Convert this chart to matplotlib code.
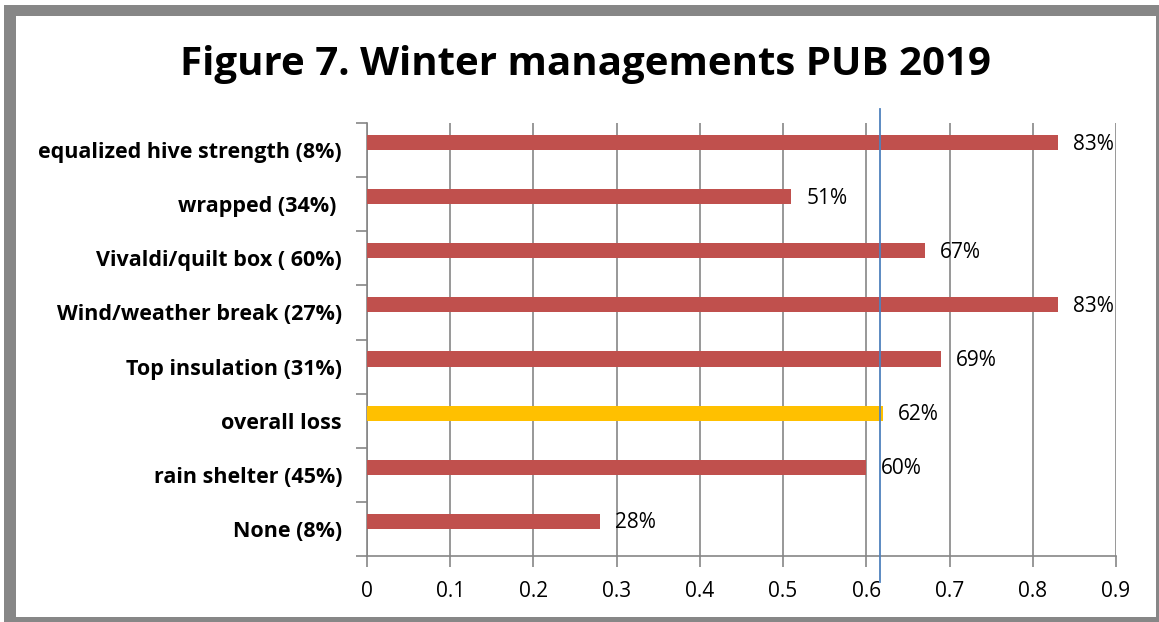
import numpy as np
import matplotlib.pyplot as plt
from matplotlib.patches import Rectangle

plt.rcParams['font.family'] = ['Open Sans', 'DejaVu Sans']

# data, top to bottom as shown
categories = ["equalized hive strength (8%)", "wrapped (34%) ", "Vivaldi/quilt box ( 60%)",
              "Wind/weather break (27%)", "Top insulation (31%)", "overall loss",
              "rain shelter (45%)", "None (8%)"]
values = [0.83, 0.51, 0.67, 0.83, 0.69, 0.62, 0.60, 0.28]
highlight = "overall loss"
loss_line = 0.616  # hand-drawn blue marker line, sits just left of the overall-loss bar end
xticks = [0, 0.1, 0.2, 0.3, 0.4, 0.5, 0.6, 0.7, 0.8, 0.9]

RED = "#C0504D"
YELLOW = "#FFC000"
BLUE = "#4F81BD"
GRID = "#868686"

W, H = 1159, 622
fig = plt.figure(figsize=(W / 100, H / 100), dpi=100)

def px_rect(x0, y0, x1, y1, **kw):
    # rectangle given in pixel coords (origin top-left)
    return Rectangle((x0 / W, 1 - y1 / H), (x1 - x0) / W, (y1 - y0) / H,
                     transform=fig.transFigure, **kw)

# gray frame (thicker on the left/top like the screenshot)
fig.patches.append(px_rect(4, 5, W, H, facecolor="#878787", edgecolor="none", zorder=-2))
fig.patches.append(px_rect(16, 16, 1156, 617, facecolor="white", edgecolor="none", zorder=-1))

ax = fig.add_axes([367 / W, 1 - 556 / H, (1116 - 367) / W, (556 - 123) / H])
ax.set_zorder(1)
ax.patch.set_alpha(0)

y = np.arange(len(categories))[::-1]
colors = [YELLOW if c == highlight else RED for c in categories]
ax.barh(y + 0.14, values, height=0.28, color=colors, zorder=3)

for yi, v in zip(y, values):
    ax.text(v + 0.018, yi + 0.11, f"{v:.0%}", va="center", ha="left", fontsize=15, zorder=4)

ax.set_xlim(0, 0.9)
ax.set_ylim(-0.5, len(categories) - 0.5)
ax.set_xticks(xticks)
ax.set_xticklabels([f"{t:g}" for t in xticks], fontsize=15)
ax.set_yticks(y)
ax.set_yticklabels(categories, fontsize=15.5, fontweight="bold")
ax.set_yticks(np.arange(len(categories) + 1) - 0.5, minor=True)
ax.tick_params(axis="y", which="major", length=0, pad=18)
ax.tick_params(axis="y", which="minor", length=8, color=GRID, width=1.2)
ax.tick_params(axis="x", length=8, color=GRID, width=1.2, pad=10)

ax.grid(axis="x", color=GRID, linewidth=1.2, zorder=0)
for s in ["top", "right"]:
    ax.spines[s].set_visible(False)
for s in ["left", "bottom"]:
    ax.spines[s].set_color(GRID)
    ax.spines[s].set_linewidth(1.2)

# blue reference line, running past the plot area
ax.plot([loss_line, loss_line], [-0.98, len(categories) - 0.25], color=BLUE,
        linewidth=1.3, clip_on=False, zorder=5)

fig.text(585 / W, 1 - 64 / H, "Figure 7. Winter managements PUB 2019", ha="center", va="center",
         fontsize=29, fontweight="bold")

fig.savefig("out.png", dpi=100)
